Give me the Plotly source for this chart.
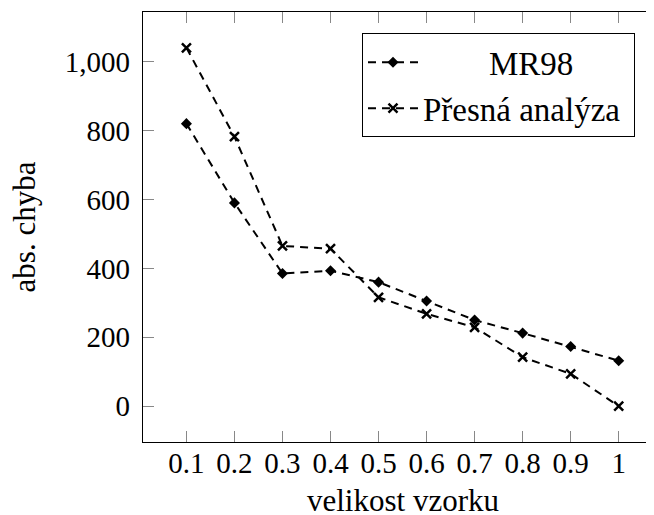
import plotly.graph_objects as go

x_vals = [0.1, 0.2, 0.3, 0.4, 0.5, 0.6, 0.7, 0.8, 0.9, 1.0]
mr98 = [820, 590, 385, 393, 360, 305, 250, 212, 173, 132]
presna = [1040, 782, 465, 457, 316, 268, 229, 142, 94, 0]
y_ticks = [0, 200, 400, 600, 800, 1000]
x_ticktext = ["0.1", "0.2", "0.3", "0.4", "0.5", "0.6", "0.7", "0.8", "0.9", "1"]
x_title = "velikost vzorku"
y_title = "abs. chyba"

FONT = "Liberation Serif"
NB = "\u00a0"
X_LO, X_HI = 0.0096, 1.0735

fig = go.Figure()
fig.add_trace(go.Scatter(
    x=x_vals, y=mr98, mode="lines+markers",
    name=NB * 8 + "MR98",
    line=dict(color="black", width=2, dash="8px,6px"),
    marker=dict(symbol="diamond", size=8.5, color="black"),
))
fig.add_trace(go.Scatter(
    x=x_vals, y=presna, mode="lines+markers",
    name="Přesná analýza" + NB,
    line=dict(color="black", width=2, dash="8px,6px"),
    marker=dict(symbol="x-thin", size=9, color="black",
                line=dict(color="black", width=2.5)),
))
# invisible trace to carry right-side ticks
fig.add_trace(go.Scatter(x=[x_vals[0]], y=[y_ticks[0]], yaxis="y2",
                         mode="markers", marker=dict(opacity=0),
                         showlegend=False, hoverinfo="skip"))

# page body has an 8px default margin; figure is sized to fill the rest
fig.update_layout(
    width=646, height=507,
    margin=dict(l=135, r=0, t=4, b=73, autoexpand=False),
    paper_bgcolor="white", plot_bgcolor="white",
    font=dict(family=FONT, color="black", size=29),
    showlegend=True,
    legend=dict(
        x=0.9628, y=0.9505, xanchor="right", yanchor="top",
        bgcolor="white", bordercolor="black", borderwidth=1,
        font=dict(family=FONT, size=33, color="black"),
        tracegroupgap=0, itemwidth=50,
    ),
    xaxis=dict(
        range=[X_LO, X_HI], automargin=False,
        tickmode="array", tickvals=x_vals, ticktext=x_ticktext,
        ticks="inside", ticklen=11, tickwidth=1, tickcolor="#888888",
        showline=True, linecolor="black", linewidth=1.2, mirror="ticks",
        showgrid=False, zeroline=False,
        tickfont=dict(family=FONT, size=29),
        ticklabelstandoff=-5,
    ),
    yaxis=dict(
        range=[-104, 1144], automargin=False,
        tickmode="array", tickvals=y_ticks, tickformat=",",
        ticks="inside", ticklen=11, tickwidth=1, tickcolor="#888888",
        showline=True, linecolor="black", linewidth=1.2, mirror=False,
        showgrid=False, zeroline=False,
        tickfont=dict(family=FONT, size=29),
        ticklabelstandoff=6,
    ),
    yaxis2=dict(
        overlaying="y", side="right", matches="y", automargin=False,
        tickmode="array", tickvals=y_ticks,
        ticks="inside", ticklen=4, tickwidth=1, tickcolor="#888888",
        showticklabels=False, showline=False, showgrid=False, zeroline=False,
    ),
    annotations=[
        dict(text=x_title, xref="x", yref="paper", x=(0.01 + 1.09) / 2, y=-0.135,
             xanchor="center", yanchor="middle", showarrow=False,
             font=dict(family=FONT, size=31)),
        dict(text=y_title, xref="paper", yref="paper", x=-0.232, y=0.5,
             xanchor="center", yanchor="middle", textangle=-90, showarrow=False,
             font=dict(family=FONT, size=31)),
    ],
)

fig.write_html("out.html")
